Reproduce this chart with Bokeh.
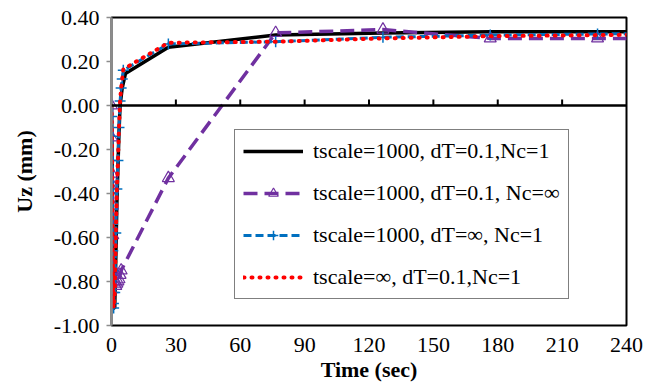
from bokeh.plotting import figure
from bokeh.models import (Range1d, FixedTicker, PrintfTickFormatter, Span,
                          Legend, LegendItem)
from bokeh.embed import file_html
from bokeh.resources import INLINE

# Vertical displacement Uz (mm) versus time (sec) for four simulation settings
t_black = [0, 0.2, 0.4, 0.6, 0.8, 1.0, 1.5, 2.0, 2.5, 3.0, 3.5, 4.0, 5.0, 6.5,
           26.5, 76.5, 126.5, 176.5, 226.5, 276.5]
uz_black = [0.0, -0.15, -0.40, -0.62, -0.82, -0.92, -0.92, -0.70, -0.45, -0.28,
            -0.12, 0.0, 0.08, 0.145, 0.265, 0.32, 0.33, 0.335, 0.335, 0.335]

t_purple = [0, 0.1, 0.2, 0.3, 0.4, 0.5, 0.6, 0.7, 1.5, 2.0, 2.5, 3.0, 3.5,
            4.0, 4.5, 26.5, 76.5, 126.5, 176.5, 226.5, 276.5]
uz_purple = [0.0, -0.145, -0.31, -0.36, -0.38, -0.455, -0.59, -0.74, -0.80,
             -0.82, -0.81, -0.80, -0.79, -0.77, -0.75, -0.33, 0.33, 0.345,
             0.305, 0.305, 0.305]

t_blue = [0, 0.1, 0.2, 0.3, 0.4, 0.5, 0.6, 0.7, 0.8, 0.9, 1.0, 1.5, 2.0, 2.5,
          3.0, 3.5, 4.0, 4.5, 5.0, 5.5, 26.5, 76.5, 126.5, 176.5, 226.5, 276.5]
uz_blue = [0.0, -0.05, -0.14, -0.25, -0.40, -0.54, -0.66, -0.75, -0.85, -0.90,
           -0.92, -0.85, -0.58, -0.38, -0.25, -0.10, 0.02, 0.08, 0.12, 0.16,
           0.28, 0.29, 0.31, 0.32, 0.325, 0.33]

t_red = [0, 0.1, 0.2, 0.3, 0.4, 0.5, 0.6, 0.7, 0.8, 0.9, 1.0, 1.5, 2.0, 2.5,
         3.0, 3.5, 4.0, 4.5, 5.0, 5.5, 26.5, 76.5, 126.5, 176.5, 226.5, 276.5]
uz_red = [0.0, -0.05, -0.14, -0.25, -0.40, -0.54, -0.66, -0.75, -0.85, -0.90,
          -0.92, -0.85, -0.58, -0.38, -0.25, -0.10, 0.02, 0.08, 0.12, 0.165,
          0.285, 0.29, 0.305, 0.315, 0.32, 0.325]

labels = ["tscale=1000, dT=0.1,Nc=1",
          "tscale=1000, dT=0.1, Nc=\u221e",
          "tscale=1000, dT=\u221e, Nc=1",
          "tscale=\u221e, dT=0.1,Nc=1"]

x_ticks = [0, 30, 60, 90, 120, 150, 180, 210, 240]
y_ticks = [-1.0, -0.8, -0.6, -0.4, -0.2, 0.0, 0.2, 0.4]

FONT = "'Liberation Serif', 'Times New Roman', serif"

p = figure(width=655, height=385, output_backend="svg", toolbar_location=None,
           x_range=Range1d(0, 240), y_range=Range1d(-1.0, 0.4),
           min_border_left=111, min_border_right=29, min_border_top=17,
           min_border_bottom=60, background_fill_color="white",
           border_fill_color="white")

p.grid.visible = False
p.outline_line_color = "black"
p.outline_line_width = 2

# y axis: grey line with outward ticks
p.yaxis.ticker = FixedTicker(ticks=y_ticks)
p.yaxis.formatter = PrintfTickFormatter(format="%.2f")
p.yaxis.axis_line_color = "#8c8c8c"
p.yaxis.axis_line_width = 2.5
p.yaxis.major_tick_line_color = "#8c8c8c"
p.yaxis.major_tick_line_width = 1.5
p.yaxis.major_tick_out = 5
p.yaxis.major_tick_in = 0
p.yaxis.minor_tick_line_color = None
p.yaxis.major_label_standoff = 7
p.yaxis.axis_label = "Uz (mm)"
p.yaxis.axis_label_standoff = 14

# x axis: labels only along the bottom edge
p.xaxis.ticker = FixedTicker(ticks=x_ticks)
p.xaxis.axis_line_color = None
p.xaxis.major_tick_line_color = None
p.xaxis.minor_tick_line_color = None
p.xaxis.major_label_standoff = 6
p.xaxis.axis_label = "Time (sec)"
p.xaxis.axis_label_standoff = 2

for ax in (p.xaxis[0], p.yaxis[0]):
    ax.major_label_text_font = FONT
    ax.major_label_text_font_size = "22px"
    ax.major_label_text_color = "black"
    ax.axis_label_text_font = FONT
    ax.axis_label_text_font_size = "22px"
    ax.axis_label_text_font_style = "bold"
    ax.axis_label_text_color = "black"

# horizontal axis line through zero with upward tick marks
p.add_layout(Span(location=0, dimension="width", line_color="black",
                  line_width=2.5))
p.ray(x=x_ticks[1:-1], y=[0] * (len(x_ticks) - 2), length=6,
      length_units="screen", angle=1.5708, line_color="black", line_width=2)

r_black = p.line(t_black, uz_black, line_color="black", line_width=3.5)

r_purple = p.line(t_purple, uz_purple, line_color="#7030A0", line_width=3.5,
                  line_dash="14 7")
s_purple = p.scatter(t_purple, uz_purple, marker="triangle", size=12,
                     fill_alpha=0, line_color="#7030A0", line_width=1.2)

r_blue = p.line(t_blue, uz_blue, line_color="#0070C0", line_width=3,
                line_dash="8 4")
s_blue = p.scatter(t_blue, uz_blue, marker="cross", size=11,
                   line_color="#0070C0", line_width=1.5)

r_red = p.line(t_red, uz_red, line_color="#FF0000", line_width=4,
               line_dash="1 7", line_cap="round")

legend = Legend(items=[
    LegendItem(label=labels[0], renderers=[r_black]),
    LegendItem(label=labels[1], renderers=[r_purple, s_purple]),
    LegendItem(label=labels[2], renderers=[r_blue, s_blue]),
    LegendItem(label=labels[3], renderers=[r_red]),
], location=(123, 26))
legend.label_text_font = FONT
legend.label_text_font_size = "22px"
legend.label_text_color = "black"
legend.glyph_width = 60
legend.glyph_height = 24
legend.label_height = 24
legend.label_standoff = 10
legend.spacing = 16
legend.padding = 8
legend.margin = 0
legend.border_line_color = "black"
legend.border_line_width = 1.5
legend.background_fill_color = "white"
legend.background_fill_alpha = 1
p.add_layout(legend, "center")

open("out.html", "w").write(file_html(p, INLINE))
